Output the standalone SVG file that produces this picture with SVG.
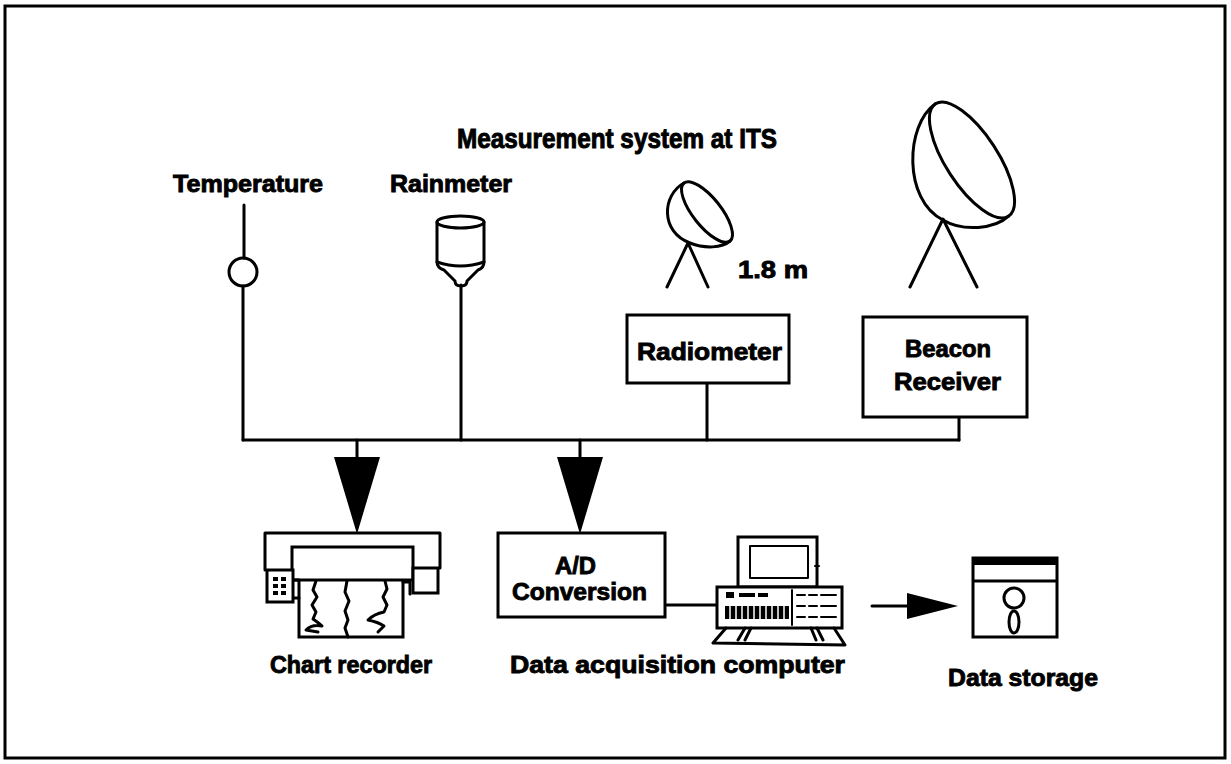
<svg xmlns="http://www.w3.org/2000/svg" width="1231" height="764" viewBox="0 0 1231 764">
  <style>
    .ln { fill: none; stroke: #000; stroke-width: 3; stroke-linecap: round; stroke-linejoin: round; }
    .thin { fill: none; stroke: #000; stroke-width: 2; stroke-linecap: round; stroke-linejoin: round; }
    .box { fill: #fff; stroke: #000; stroke-width: 3; }
    .blk { fill: #000; stroke: none; }
    .lbl { font-family: "Liberation Sans", Arial, sans-serif; font-weight: bold; font-size: 24px; fill: #000; stroke: #000; stroke-width: 0.9; }
    .ttl { font-family: "Liberation Sans", Arial, sans-serif; font-weight: bold; font-size: 28px; fill: #000; stroke: #000; stroke-width: 1; }
  </style>

  <rect x="0" y="0" width="1231" height="764" fill="#fff"/>
  <!-- outer frame -->
  <rect x="5" y="6" width="1220" height="752" fill="none" stroke="#000" stroke-width="3"/>

  <text class="ttl" x="617" y="148" text-anchor="middle" textLength="320" lengthAdjust="spacingAndGlyphs">Measurement system at ITS</text>

  <!-- connectors: sensor bus and arrows -->
  <g id="connectors">
    <line class="ln" x1="244" y1="205" x2="244" y2="258"/>
    <line class="ln" x1="243" y1="286" x2="243" y2="440"/>
    <line class="ln" x1="461" y1="285" x2="461" y2="440"/>
    <line class="ln" x1="707" y1="383" x2="707" y2="440"/>
    <line class="ln" x1="959" y1="417" x2="959" y2="440"/>
    <line class="ln" x1="243" y1="440" x2="959" y2="440"/>
    <line class="ln" x1="357" y1="440" x2="357" y2="460"/>
    <polygon class="blk" points="334,457 380,457 357,534"/>
    <line class="ln" x1="580" y1="440" x2="580" y2="460"/>
    <polygon class="blk" points="557,457 603,457 580,534"/>
    <line class="ln" x1="665" y1="605" x2="717" y2="605"/>
    <line class="ln" x1="872" y1="606" x2="912" y2="606"/>
    <polygon class="blk" points="907,593 958,606 907,619"/>
  </g>

  <g id="temperature">
    <circle class="ln" cx="243" cy="272" r="14"/>
    <text class="lbl" x="173" y="192" textLength="150" lengthAdjust="spacingAndGlyphs">Temperature</text>
  </g>

  <g id="rainmeter">
    <path class="ln" d="M437,222 L437,262 Q437,268 444,270 L455,281 Q455,286 461,286 Q467,286 467,281 L478,270 Q484,268 484,262 L484,222"/>
    <ellipse class="ln" cx="460.5" cy="222" rx="23.5" ry="6"/>
    <path class="ln" d="M437,262 Q460.5,270 484,262"/>
    <text class="lbl" x="390" y="192" textLength="122" lengthAdjust="spacingAndGlyphs">Rainmeter</text>
  </g>

  <g id="radiometer-antenna">
    <path class="ln" d="M684,183 C662,195 660,232 690,243 C705,249 722,248 730,241"/>
    <ellipse class="ln" cx="707" cy="212" rx="37" ry="14" transform="rotate(51.6 707 212)"/>
    <path class="ln" d="M667,287 L688,243 L708,287"/>
    <text class="lbl" x="738" y="278" textLength="70" lengthAdjust="spacingAndGlyphs">1.8 m</text>
  </g>

  <g id="radiometer">
    <rect class="box" x="627" y="315" width="162" height="68"/>
    <text class="lbl" x="637" y="360" textLength="145" lengthAdjust="spacingAndGlyphs">Radiometer</text>
  </g>

  <g id="beacon-antenna">
    <path class="ln" d="M935.5,103.8 C905,125 903,200 943,220 C963,232 995,229 1008.5,216.2"/>
    <ellipse class="ln" cx="972" cy="160" rx="67" ry="26" transform="rotate(57 972 160)"/>
    <path class="ln" d="M910,287 L943,219 L977,287"/>
  </g>

  <g id="beacon-receiver">
    <rect class="box" x="863" y="317" width="164" height="100"/>
    <text class="lbl" x="905" y="357" textLength="86" lengthAdjust="spacingAndGlyphs">Beacon</text>
    <text class="lbl" x="894" y="390" textLength="107" lengthAdjust="spacingAndGlyphs">Receiver</text>
  </g>

  <g id="chart-recorder">
    <path class="ln" d="M265,570 L265,533 L440,533 L440,568"/>
    <rect class="box" x="299" y="578" width="104" height="59"/>
    <rect class="box" x="292" y="547" width="121" height="33"/>
    <rect class="box" x="267" y="570" width="26" height="32"/>
    <rect class="box" x="413" y="568" width="25" height="25"/>
    <g class="blk">
      <rect x="273" y="577" width="5" height="4"/><rect x="281" y="577" width="5" height="4"/>
      <rect x="273" y="584" width="5" height="4"/><rect x="281" y="584" width="5" height="4"/>
      <rect x="273" y="591" width="5" height="4"/><rect x="281" y="591" width="5" height="4"/>
    </g>
    <path class="ln" d="M294,580 L299,580 M294,598 L299,598 M403,582 L410,582 L410,594"/>
    <path class="ln" d="M316,581 L313,590 L317,597 L312,605 L316,612 L313,619 Q320,624 322,626 Q312,624 306,630 L318,632"/>
    <path class="ln" d="M347,581 L345,592 L349,601 L345,611 L348,620 L345,628 L348,637"/>
    <path class="ln" d="M385,581 L387,589 L383,597 L387,605 L384,612 Q374,614 368,620 Q378,622 384,626 L378,632"/>
    <text class="lbl" x="270" y="673" textLength="162" lengthAdjust="spacingAndGlyphs">Chart recorder</text>
  </g>

  <g id="ad-conversion">
    <rect class="box" x="498" y="533" width="167" height="84"/>
    <text class="lbl" x="555" y="574" font-size="22" textLength="41" lengthAdjust="spacingAndGlyphs">A/D</text>
    <text class="lbl" x="512" y="600" font-size="22" textLength="135" lengthAdjust="spacingAndGlyphs">Conversion</text>
  </g>

  <g id="computer">
    <rect class="box" x="738" y="537" width="79" height="50"/>
    <rect class="thin" x="750" y="546" width="58" height="32"/>
    <line class="thin" x1="815" y1="566" x2="819" y2="566"/>
    <rect class="box" x="717" y="587" width="125" height="41"/>
    <g class="blk">
      <rect x="726" y="592" width="8" height="6"/>
      <rect x="739" y="593" width="16" height="4"/>
      <rect x="758" y="593" width="10" height="4"/>
      <rect x="725" y="606" width="64" height="13"/>
    </g>
    <path d="M730,606 L730,619 M736,606 L736,619 M742,606 L742,619 M748,606 L748,619 M754,606 L754,619 M760,606 L760,619 M766,606 L766,619 M772,606 L772,619 M778,606 L778,619 M784,606 L784,619" stroke="#fff" stroke-width="1.5"/>
    <line class="thin" x1="792" y1="590" x2="792" y2="625"/>
    <path class="thin" d="M797,595 L805,595 M809,595 L817,595 M821,595 L836,595 M797,606 L805,606 M809,606 L817,606 M821,606 L836,606 M797,617 L805,617 M809,617 L817,617 M821,617 L836,617"/>
    <path class="ln" d="M726,628 L713,643 L845,645 L834,628"/>
    <path class="ln" d="M745,628 L738,640 M751,628 L745,640 M811,628 L816,640 M817,628 L823,640"/>
    <text class="lbl" x="510" y="673" textLength="335" lengthAdjust="spacingAndGlyphs">Data acquisition computer</text>
  </g>

  <g id="data-storage">
    <rect class="box" x="973" y="558" width="84" height="79"/>
    <rect class="blk" x="973" y="558" width="84" height="7"/>
    <line class="ln" x1="974" y1="581" x2="1056" y2="581"/>
    <circle class="ln" cx="1014" cy="598" r="10"/>
    <ellipse class="ln" cx="1014" cy="622" rx="5" ry="11"/>
    <text class="lbl" x="948" y="686" textLength="150" lengthAdjust="spacingAndGlyphs">Data storage</text>
  </g>
</svg>
